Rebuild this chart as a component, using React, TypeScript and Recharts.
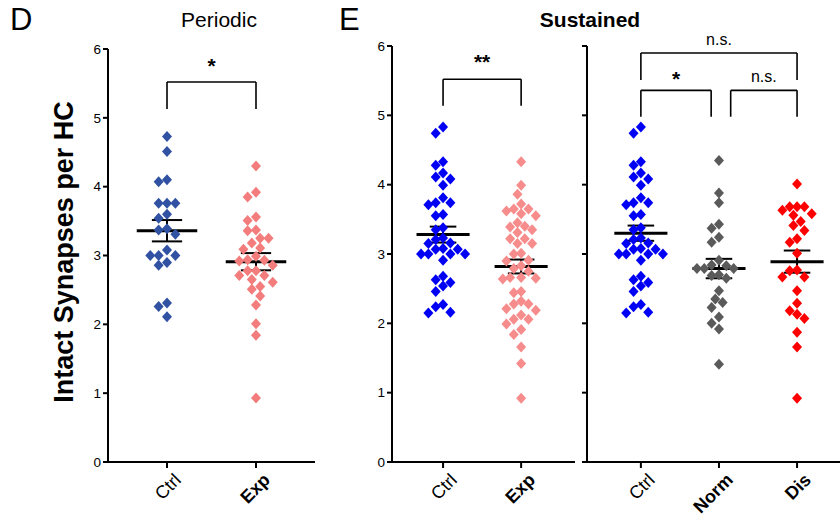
import {
  ScatterChart,
  Scatter,
  XAxis,
  YAxis,
  ReferenceLine,
} from "recharts";

// category labels per panel
const periodicCats = ["Ctrl", "Exp"];
const sustainedCats = ["Ctrl", "Exp"];
const sustained3Cats = ["Ctrl", "Norm", "Dis"];
const yTicks = [0, 1, 2, 3, 4, 5, 6];

// individual values
const dCtrl = [4.73, 4.51, 4.10, 4.07, 3.76, 3.76, 3.76, 3.60, 3.54, 3.39, 3.37, 3.31, 3.08, 3.00, 3.00, 3.00, 2.90, 2.86, 2.31, 2.26, 2.11];
const dExp = [4.30, 3.92, 3.85, 3.56, 3.51, 3.37, 3.36, 3.25, 3.25, 3.18, 3.11, 3.09, 2.99, 2.94, 2.93, 2.92, 2.86, 2.78, 2.78, 2.71, 2.71, 2.65, 2.61, 2.55, 2.51, 2.41, 2.28, 2.01, 1.84, 0.93];
const eCtrl = [4.83, 4.74, 4.33, 4.28, 4.17, 4.11, 4.08, 3.99, 3.81, 3.74, 3.74, 3.71, 3.57, 3.55, 3.38, 3.35, 3.23, 3.21, 3.16, 3.15, 3.08, 3.07, 3.07, 3.00, 3.00, 3.00, 3.00, 2.91, 2.68, 2.63, 2.59, 2.54, 2.46, 2.27, 2.24, 2.16, 2.15];
const eExp = [4.33, 3.99, 3.86, 3.72, 3.65, 3.65, 3.62, 3.58, 3.55, 3.45, 3.40, 3.39, 3.35, 3.31, 3.22, 3.22, 3.15, 3.15, 3.01, 3.00, 2.91, 2.90, 2.83, 2.79, 2.75, 2.66, 2.66, 2.65, 2.64, 2.46, 2.44, 2.32, 2.28, 2.28, 2.21, 2.19, 2.12, 2.06, 2.06, 1.99, 1.91, 1.84, 1.66, 1.42, 0.92];
const eNorm = [4.35, 3.88, 3.74, 3.43, 3.37, 3.24, 3.17, 2.91, 2.84, 2.83, 2.79, 2.79, 2.79, 2.70, 2.69, 2.65, 2.47, 2.35, 2.30, 2.23, 2.09, 2.00, 1.92, 1.41];
const eDis = [4.01, 3.68, 3.68, 3.68, 3.63, 3.58, 3.56, 3.47, 3.41, 3.34, 3.22, 3.17, 3.01, 2.77, 2.76, 2.67, 2.67, 2.47, 2.29, 2.18, 2.13, 2.07, 1.87, 1.66, 0.92];

// mean and SEM as drawn
const dMeans = [3.36, 2.91];
const dSems = [0.155, 0.125];
const eMeans = [3.28, 2.82];
const eSems = [0.115, 0.1];
const e3Means = [3.30, 2.79, 2.89];
const e3Sems = [0.11, 0.14, 0.16];

const FONT = "'Liberation Sans', Arial, sans-serif";
const STEP = 0.094;
const YGAP = 0.14;

// simple beeswarm so the dots spread like the prism layout
function swarm(values: number[], center: number) {
  const placed: { x: number; y: number }[] = [];
  const sorted = [...values].sort((a, b) => b - a);
  for (const v of sorted) {
    for (let k = 0; k < 40; k++) {
      const cands = k === 0 ? [0] : [-k * STEP / 2, k * STEP / 2];
      let found: number | null = null;
      for (const off of cands) {
        const x = center + off;
        if (placed.every(p => ((p.x - x) / STEP) ** 2 + ((p.y - v) / YGAP) ** 2 >= 0.98)) {
          found = x;
          break;
        }
      }
      if (found !== null) {
        placed.push({ x: found, y: v });
        break;
      }
    }
  }
  return placed;
}

const diamond = (color: string) => (props: any) => {
  const { cx, cy } = props;
  return (
    <path
      d={`M${cx},${cy - 5.5}L${cx + 5},${cy}L${cx},${cy + 5.5}L${cx - 5},${cy}Z`}
      fill={color}
    />
  );
};

function meanBar(x: number, mean: number, sem: number, key: string) {
  const common = { stroke: "#000", ifOverflow: "visible" as const };
  return [
    <ReferenceLine key={key + "m"} {...common} strokeWidth={3} segment={[{ x: x - 0.34, y: mean }, { x: x + 0.34, y: mean }]} />,
    <ReferenceLine key={key + "v"} {...common} strokeWidth={2} segment={[{ x, y: mean - sem }, { x, y: mean + sem }]} />,
    <ReferenceLine key={key + "t"} {...common} strokeWidth={2} segment={[{ x: x - 0.17, y: mean + sem }, { x: x + 0.17, y: mean + sem }]} />,
    <ReferenceLine key={key + "b"} {...common} strokeWidth={2} segment={[{ x: x - 0.17, y: mean - sem }, { x: x + 0.17, y: mean - sem }]} />,
  ];
}

function bracket(x1: number, x2: number, top: number, leg: number, text: string, key: string, bold: boolean, gap: number) {
  const common = { stroke: "#000", strokeWidth: 1.6, ifOverflow: "visible" as const };
  return [
    <ReferenceLine key={key + "l"} {...common} segment={[{ x: x1, y: leg }, { x: x1, y: top }]} />,
    <ReferenceLine key={key + "r"} {...common} segment={[{ x: x2, y: leg }, { x: x2, y: top }]} />,
    <ReferenceLine
      key={key + "h"}
      {...common}
      segment={[{ x: x1, y: top }, { x: x2, y: top }]}
      label={{
        value: text,
        position: "top",
        offset: gap,
        style: { fontFamily: FONT, fontSize: bold ? 21 : 16, fontWeight: bold ? 700 : 400, fill: "#000" },
      }}
    />,
  ];
}

const makeTick = (cats: string[]) => (props: any) => {
  const { x, y, payload } = props;
  const label = cats[Math.round(payload.value) - 1];
  const bold = label !== "Ctrl";
  return (
    <text
      x={0}
      y={0}
      transform={`translate(${x + 6},${y + 2}) rotate(-45)`}
      textAnchor="end"
      dominantBaseline="hanging"
      fontFamily={FONT}
      fontSize={18}
      fontWeight={bold ? 700 : 400}
      fill="#000"
    >
      {label}
    </text>
  );
};

const axisStyle = { stroke: "#000", strokeWidth: 2 };
const yTickStyle = { fill: "#000", fontSize: 13.5, fontFamily: FONT };

export default function App() {
  return (
    <div style={{ position: "absolute", left: 0, top: 0, width: 840, height: 517, background: "#fff", fontFamily: FONT }}>
      <div style={{ position: "absolute", left: 10, top: 0, fontSize: 31, lineHeight: "40px" }}>D</div>
      <div style={{ position: "absolute", left: 339, top: 0, fontSize: 31, lineHeight: "40px" }}>E</div>
      <div style={{ position: "absolute", left: 119, width: 200, top: 6, textAlign: "center", fontSize: 21, lineHeight: "28px" }}>Periodic</div>
      <div style={{ position: "absolute", left: 490, width: 200, top: 6, textAlign: "center", fontSize: 21, fontWeight: 700, lineHeight: "28px" }}>Sustained</div>
      <svg style={{ position: "absolute", left: 0, top: 0 }} width={100} height={517}>
        <text
          transform="translate(73,252) rotate(-90)"
          textAnchor="middle"
          fontFamily={FONT}
          fontSize={27}
          fontWeight={700}
          fill="#000"
        >
          Intact Synapses per HC
        </text>
      </svg>

      {/* Periodic */}
      <div style={{ position: "absolute", left: 0, top: 0 }}>
        <ScatterChart width={330} height={517} margin={{ top: 49, right: 15, bottom: 5, left: 48 }}>
          <XAxis type="number" dataKey="x" domain={[0.337, 2.663]} ticks={[1, 2]} interval={0} height={50}
            axisLine={axisStyle} tickLine={axisStyle} tickSize={6} tick={makeTick(periodicCats)} allowDataOverflow />
          <YAxis type="number" dataKey="y" domain={[0, 6]} ticks={yTicks} interval={0} width={60}
            axisLine={axisStyle} tickLine={axisStyle} tickSize={5} tick={yTickStyle} />
          <Scatter data={swarm(dCtrl, 1)} shape={diamond("#3152A3")} isAnimationActive={false} />
          <Scatter data={swarm(dExp, 2)} shape={diamond("#F37C7C")} isAnimationActive={false} />
          {dMeans.map((m, i) => meanBar(i + 1, m, dSems[i], "d" + i))}
          {bracket(1, 2, 5.52, 5.13, "*", "db", true, 9)}
        </ScatterChart>
      </div>

      {/* Sustained, two groups */}
      <div style={{ position: "absolute", left: 330, top: 0 }}>
        <ScatterChart width={250} height={517} margin={{ top: 46, right: 5, bottom: 5, left: 22 }}>
          <XAxis type="number" dataKey="x" domain={[0.346, 2.69]} ticks={[1, 2]} interval={0} height={50}
            axisLine={axisStyle} tickLine={axisStyle} tickSize={6} tick={makeTick(sustainedCats)} allowDataOverflow />
          <YAxis type="number" dataKey="y" domain={[0, 6]} ticks={yTicks} interval={0} width={40}
            axisLine={axisStyle} tickLine={axisStyle} tickSize={5} tick={yTickStyle} />
          <Scatter data={swarm(eCtrl, 1)} shape={diamond("#0000F5")} isAnimationActive={false} />
          <Scatter data={swarm(eExp, 2)} shape={diamond("#F78C8C")} isAnimationActive={false} />
          {eMeans.map((m, i) => meanBar(i + 1, m, eSems[i], "e" + i))}
          {bracket(1, 2, 5.52, 5.14, "**", "eb", true, 10)}
        </ScatterChart>
      </div>

      {/* Sustained, three groups */}
      <div style={{ position: "absolute", left: 580, top: 0 }}>
        <ScatterChart width={260} height={517} margin={{ top: 46, right: 0, bottom: 5, left: 0 }}>
          <XAxis type="number" dataKey="x" domain={[0.31, 3.55]} ticks={[1, 2, 3]} interval={0} height={50}
            axisLine={axisStyle} tickLine={axisStyle} tickSize={6} tick={makeTick(sustained3Cats)} allowDataOverflow />
          <YAxis type="number" dataKey="y" domain={[0, 6]} ticks={yTicks} interval={0} width={7}
            axisLine={axisStyle} tickLine={axisStyle} tickSize={5} tickFormatter={() => ""} />
          <Scatter data={swarm(eCtrl, 1)} shape={diamond("#0000F5")} isAnimationActive={false} />
          <Scatter data={swarm(eNorm, 2)} shape={diamond("#5A5A5A")} isAnimationActive={false} />
          <Scatter data={swarm(eDis, 3)} shape={diamond("#FF0000")} isAnimationActive={false} />
          {e3Means.map((m, i) => meanBar(i + 1, m, e3Sems[i], "f" + i))}
          {bracket(1, 3, 5.9, 5.51, "n.s.", "fa", false, 8)}
          {bracket(1, 1.9, 5.36, 4.98, "*", "fb", true, 4)}
          {bracket(2.15, 3, 5.36, 4.98, "n.s.", "fc", false, 8)}
        </ScatterChart>
      </div>
    </div>
  );
}
